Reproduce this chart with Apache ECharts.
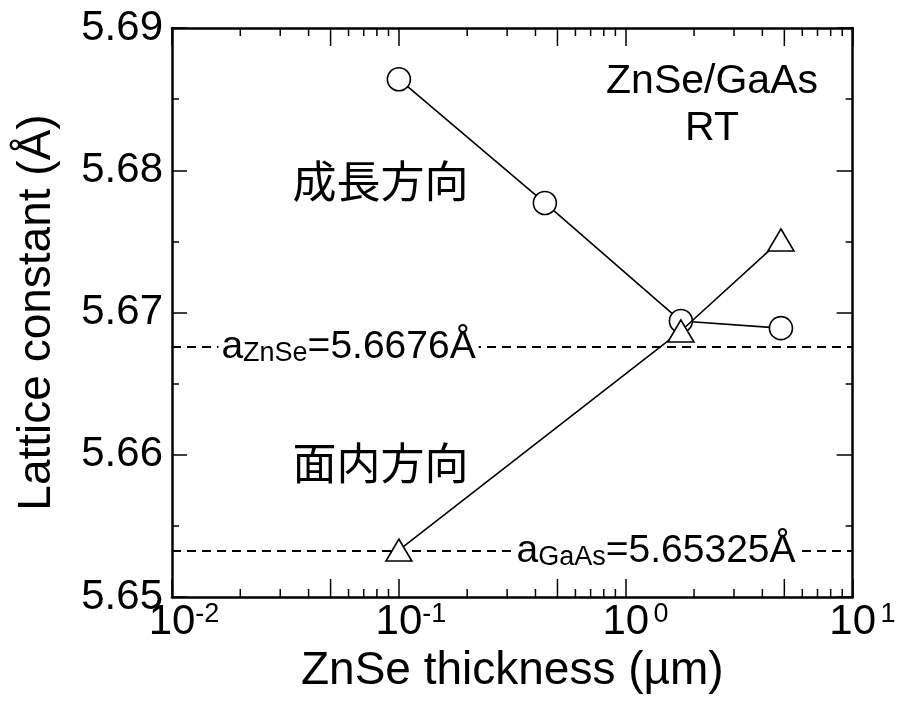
<!DOCTYPE html>
<html>
<head>
<meta charset="utf-8">
<script src="https://cdn.jsdelivr.net/npm/echarts@6/dist/echarts.min.js"></script>
<style>
  html, body { margin: 0; padding: 0; background: #fff; }
  #chart { width: 903px; height: 702px; }
</style>
</head>
<body>
<div id="chart"></div>
<script>
// ZnSe thickness (µm) and lattice constants (Å)
const growthThickness = [0.1, 0.44, 1.75, 4.83];
const growthLattice = [5.6864, 5.6777, 5.6694, 5.6689];      // 成長方向
const inPlaneThickness = [0.1, 1.75, 4.83];
const inPlaneLattice = [5.6533, 5.6687, 5.6751];              // 面内方向
const refZnSe = 5.6676;
const refGaAs = 5.65325;
const yTicks = [5.65, 5.66, 5.67, 5.68, 5.69];
const xDecades = [0.01, 0.1, 1, 10];
const xMinorTicks = [];
[0.01, 0.1, 1].forEach(d => { for (let k = 2; k <= 9; k++) xMinorTicks.push(+(d * k).toPrecision(3)); });

const FONT = '"Liberation Sans", Arial, Helvetica, sans-serif';
const CJK = '"Noto Sans CJK JP", "Noto Sans CJK SC", sans-serif';
const INK = '#000';
const NO_BORDER = { textBorderWidth: 0, textBorderColor: 'transparent', textShadowBlur: 0 };

const chart = echarts.init(document.getElementById('chart'), null, { renderer: 'canvas' });

function zip(xs, ys) { return xs.map((x, i) => [x, ys[i]]); }

// minor log ticks drawn on bottom and top frame edges
function renderMinorTick(params, api) {
  const v = api.value(0);
  const p = api.coord([v, yTicks[0]]);
  const cs = params.coordSys;
  const mant = Math.round(v / Math.pow(10, Math.floor(Math.log10(v) + 1e-9)));
  const len = mant === 5 ? 18 : 8;
  const style = { stroke: INK, lineWidth: 1.5 };
  return {
    type: 'group',
    children: [
      { type: 'line', shape: { x1: p[0], y1: cs.y + cs.height, x2: p[0], y2: cs.y + cs.height - len }, style },
      { type: 'line', shape: { x1: p[0], y1: cs.y, x2: p[0], y2: cs.y + len }, style }
    ]
  };
}

const axisLineStyle = { color: INK, width: 2.5 };

function note(text, family, size) {
  return Object.assign({ formatter: text, fontFamily: family, fontSize: size, color: INK }, NO_BORDER);
}

chart.setOption({
  animation: false,
  backgroundColor: '#fff',
  grid: { left: 172, right: 41, top: 28, bottom: 105, containLabel: false },
  xAxis: [{
    type: 'log', logBase: 10, min: xDecades[0], max: xDecades[xDecades.length - 1],
    position: 'bottom',
    name: 'ZnSe thickness (µm)', nameLocation: 'middle', nameGap: 50,
    nameTextStyle: { fontFamily: FONT, fontSize: 46, color: INK },
    axisLine: { show: true, lineStyle: axisLineStyle },
    axisTick: { show: true, inside: true, length: 18, lineStyle: { color: INK, width: 1.5 } },
    minorTick: { show: false },
    splitLine: { show: false },
    axisLabel: {
      show: true, margin: 4, hideOverlap: false, showMinLabel: true, showMaxLabel: true,
      formatter: v => '{sp|}{b|10}{s|' + Math.round(Math.log10(v)) + '}',
      rich: {
        sp: { width: 24 },
        b: { fontFamily: FONT, fontSize: 42, color: INK, lineHeight: 46, verticalAlign: 'top' },
        s: { fontFamily: FONT, fontSize: 27, color: INK, lineHeight: 16, width: 24, verticalAlign: 'top' }
      }
    }
  }, {
    type: 'log', logBase: 10, min: xDecades[0], max: xDecades[xDecades.length - 1],
    position: 'top',
    axisLine: { show: true, lineStyle: axisLineStyle },
    axisTick: { show: true, inside: true, length: 18, lineStyle: { color: INK, width: 1.5 } },
    axisLabel: { show: false },
    splitLine: { show: false }
  }],
  yAxis: [{
    type: 'value', min: yTicks[0], max: yTicks[yTicks.length - 1], interval: 0.01,
    position: 'left',
    name: 'Lattice constant (Å)', nameLocation: 'middle', nameRotate: 90, nameGap: 112,
    nameTextStyle: { fontFamily: FONT, fontSize: 46, color: INK },
    axisLine: { show: true, lineStyle: axisLineStyle },
    axisTick: { show: true, inside: true, length: 15, lineStyle: { color: INK, width: 1.5 } },
    minorTick: { show: true, splitNumber: 2, length: 7, lineStyle: { color: INK, width: 1.5 } },
    splitLine: { show: false },
    axisLabel: {
      margin: 9, fontFamily: FONT, fontSize: 42, color: INK, padding: [0, 0, 12, 0],
      formatter: v => v.toFixed(2)
    }
  }, {
    type: 'value', min: yTicks[0], max: yTicks[yTicks.length - 1], interval: 0.01,
    position: 'right',
    axisLine: { show: true, lineStyle: axisLineStyle },
    axisTick: { show: true, inside: true, length: 16, lineStyle: { color: INK, width: 1.5 } },
    minorTick: { show: true, splitNumber: 2, length: 7, lineStyle: { color: INK, width: 1.5 } },
    splitLine: { show: false },
    axisLabel: { show: false }
  }],
  series: [
    {
      name: '成長方向', type: 'line', data: zip(growthThickness, growthLattice), z: 4,
      symbol: 'circle', symbolSize: 23, showAllSymbol: true,
      lineStyle: { color: INK, width: 1.6 },
      itemStyle: { color: '#fff', borderColor: INK, borderWidth: 1.6 },
      // reference lattice constants of bulk ZnSe and GaAs
      markLine: {
        silent: true, symbol: ['none', 'none'], animation: false, precision: 5,
        lineStyle: { color: INK, width: 1.8, type: [9, 6] },
        label: { show: false },
        data: [{ yAxis: refZnSe }, { yAxis: refGaAs }]
      }
    },
    {
      name: '面内方向', type: 'line', data: zip(inPlaneThickness, inPlaneLattice), z: 5,
      symbol: 'triangle', symbolSize: [26, 22], showAllSymbol: true,
      lineStyle: { color: INK, width: 1.6 },
      itemStyle: { color: '#fff', borderColor: INK, borderWidth: 1.6 }
    },
    {
      name: 'refLabels', type: 'scatter', symbolSize: 0, z: 8, silent: true,
      itemStyle: { opacity: 1 },
      label: Object.assign({
        show: true, position: 'inside', backgroundColor: '#fff', padding: [0, 3], color: INK,
        rich: {
          m: Object.assign({ fontFamily: FONT, fontSize: 39, color: INK, lineHeight: 40, verticalAlign: 'bottom' }, NO_BORDER),
          s: Object.assign({ fontFamily: FONT, fontSize: 27, color: INK, lineHeight: 12, verticalAlign: 'bottom' }, NO_BORDER)
        }
      }, NO_BORDER),
      data: [
        { value: [0.06, refZnSe], label: { formatter: '{m|a}{s|ZnSe}{m|=' + refZnSe + 'Å}' } },
        { value: [1.36, refGaAs], label: { formatter: '{m|a}{s|GaAs}{m|=' + refGaAs + 'Å}' } }
      ]
    },
    {
      name: 'minorTicks', type: 'custom', renderItem: renderMinorTick, z: 6, silent: true,
      data: xMinorTicks.map(v => [v, yTicks[0]]), clip: false
    },
    {
      name: 'notes', type: 'scatter', symbolSize: 0, z: 7, silent: true,
      itemStyle: { opacity: 1 },
      label: Object.assign({ show: true, position: 'inside', color: INK }, NO_BORDER),
      data: [
        { value: [0.083, 5.6792], label: note('成長方向', CJK, 44) },
        { value: [0.083, 5.6594], label: note('面内方向', CJK, 44) },
        { value: [2.4, 5.6862], label: note('ZnSe/GaAs', FONT, 41) },
        { value: [2.4, 5.6829], label: note('RT', FONT, 41) }
      ]
    }
  ]
});
</script>
</body>
</html>
